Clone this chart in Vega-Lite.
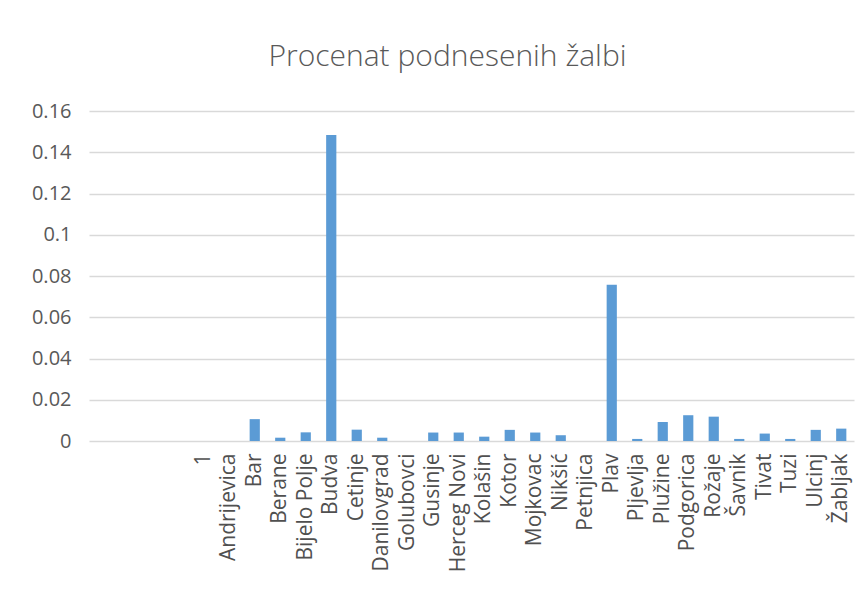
{
  "$schema": "https://vega.github.io/schema/vega-lite/v6.json",
  "autosize": {"type": "none"},
  "width": 765,
  "height": 330,
  "padding": {"left": 89, "top": 111, "right": 9, "bottom": 156},
  "background": "white",
  "title": {
    "text": "Procenat podnesenih žalbi",
    "font": "Open Sans",
    "fontSize": 30,
    "fontWeight": 300,
    "color": "#595959",
    "anchor": "middle",
    "frame": "group",
    "baseline": "alphabetic",
    "offset": 5,
    "dx": -24
  },
  "data": {
    "values": [
      {"opstina": " ", "procenat": 0},
      {"opstina": "  ", "procenat": 0},
      {"opstina": "   ", "procenat": 0},
      {"opstina": "    ", "procenat": 0},
      {"opstina": "1", "procenat": 0},
      {"opstina": "Andrijevica", "procenat": 0},
      {"opstina": "Bar", "procenat": 0.0106},
      {"opstina": "Berane", "procenat": 0.0016},
      {"opstina": "Bijelo Polje", "procenat": 0.0042},
      {"opstina": "Budva", "procenat": 0.1484},
      {"opstina": "Cetinje", "procenat": 0.0055},
      {"opstina": "Danilovgrad", "procenat": 0.0016},
      {"opstina": "Golubovci", "procenat": 0},
      {"opstina": "Gusinje", "procenat": 0.0041},
      {"opstina": "Herceg Novi", "procenat": 0.0041},
      {"opstina": "Kolašin", "procenat": 0.0021},
      {"opstina": "Kotor", "procenat": 0.0054},
      {"opstina": "Mojkovac", "procenat": 0.0041},
      {"opstina": "Nikšić", "procenat": 0.0028},
      {"opstina": "Petnjica", "procenat": 0},
      {"opstina": "Plav", "procenat": 0.0757},
      {"opstina": "Pljevlja", "procenat": 0.001},
      {"opstina": "Plužine", "procenat": 0.0092},
      {"opstina": "Podgorica", "procenat": 0.0125},
      {"opstina": "Rožaje", "procenat": 0.0118},
      {"opstina": "Šavnik", "procenat": 0.001},
      {"opstina": "Tivat", "procenat": 0.0036},
      {"opstina": "Tuzi", "procenat": 0.001},
      {"opstina": "Ulcinj", "procenat": 0.0054},
      {"opstina": "Žabljak", "procenat": 0.006}
    ]
  },
  "mark": {"type": "bar", "color": "#5b9bd5"},
  "encoding": {
    "x": {
      "field": "opstina",
      "type": "nominal",
      "sort": null,
      "title": null,
      "scale": {"paddingInner": 0.6, "paddingOuter": 0.3},
      "axis": {
        "labelAngle": -90,
        "labelAlign": "right",
        "labelBaseline": "middle",
        "labelFont": "Open Sans",
        "labelFontSize": 21,
        "labelColor": "#505050",
        "labelPadding": 12,
        "ticks": false,
        "domain": false,
        "grid": false
      }
    },
    "y": {
      "field": "procenat",
      "type": "quantitative",
      "title": null,
      "scale": {"domain": [0, 0.16], "nice": false},
      "axis": {
        "values": [0, 0.02, 0.04, 0.06, 0.08, 0.1, 0.12, 0.14, 0.16],
        "format": "~g",
        "labelFont": "Open Sans",
        "labelFontSize": 20,
        "labelColor": "#595959",
        "labelPadding": 18,
        "ticks": false,
        "domain": false,
        "grid": true,
        "gridColor": "#d9d9d9",
        "gridWidth": 1.5
      }
    }
  },
  "config": {"view": {"stroke": null}}
}
